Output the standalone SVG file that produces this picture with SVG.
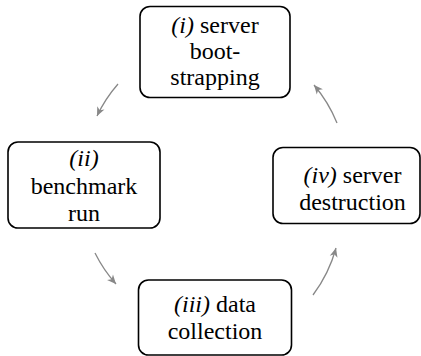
<svg xmlns="http://www.w3.org/2000/svg" width="421" height="356" viewBox="0 0 421 356">
<style>
.box{fill:#fff;stroke:#000;stroke-width:1.6}
.t{font-size:24px;fill:#000;text-anchor:middle}
.it{font-style:italic}
.c{fill:none;stroke:#888;stroke-width:1.3}
</style>
<defs>
<marker id="ah" markerWidth="12" markerHeight="12" viewBox="-10 -6 12 12" refX="0" refY="0" orient="auto" markerUnits="userSpaceOnUse">
<path d="M0,0 L-9,-4 L-6.5,0 L-9,4 z" fill="#888"/>
</marker>
</defs>
<g id="connectors">
<path class="c" d="M118,84 A140,140 0 0 0 97,116" marker-end="url(#ah)"/>
<path class="c" d="M95,253 A140,140 0 0 0 116,284" marker-end="url(#ah)"/>
<path class="c" d="M313,295 A140,140 0 0 0 336,248" marker-end="url(#ah)"/>
<path class="c" d="M337,123 A140,140 0 0 0 314,85" marker-end="url(#ah)"/>
</g>
<g id="n1">
<rect class="box" x="140" y="6.5" width="150" height="91" rx="10"/>
<text class="t" font-family="Tinos" x="215" y="32.5"><tspan class="it">(i)</tspan> server</text>
<text class="t" font-family="serif" x="215" y="59">boot-</text>
<text class="t" font-family="Tinos" x="215" y="85">strapping</text>
</g>
<g id="n2">
<rect class="box" x="8" y="142" width="152" height="86" rx="10"/>
<text class="t" font-family="serif" x="84" y="166"><tspan class="it">(ii)</tspan></text>
<text class="t" font-family="Tinos" x="84" y="193.5">benchmark</text>
<text class="t" font-family="serif" x="84" y="221">run</text>
</g>
<g id="n3">
<rect class="box" x="138.5" y="280" width="153" height="75" rx="10"/>
<text class="t" font-family="serif" x="215" y="312"><tspan class="it">(iii)</tspan> data</text>
<text class="t" font-family="Tinos" x="215" y="339">collection</text>
</g>
<g id="n4">
<rect class="box" x="273" y="147.5" width="147" height="76" rx="10"/>
<text class="t" font-family="Tinos" x="352.5" y="182.5"><tspan class="it">(iv)</tspan> server</text>
<text class="t" font-family="serif" x="352.5" y="210">destruction</text>
</g>
</svg>
